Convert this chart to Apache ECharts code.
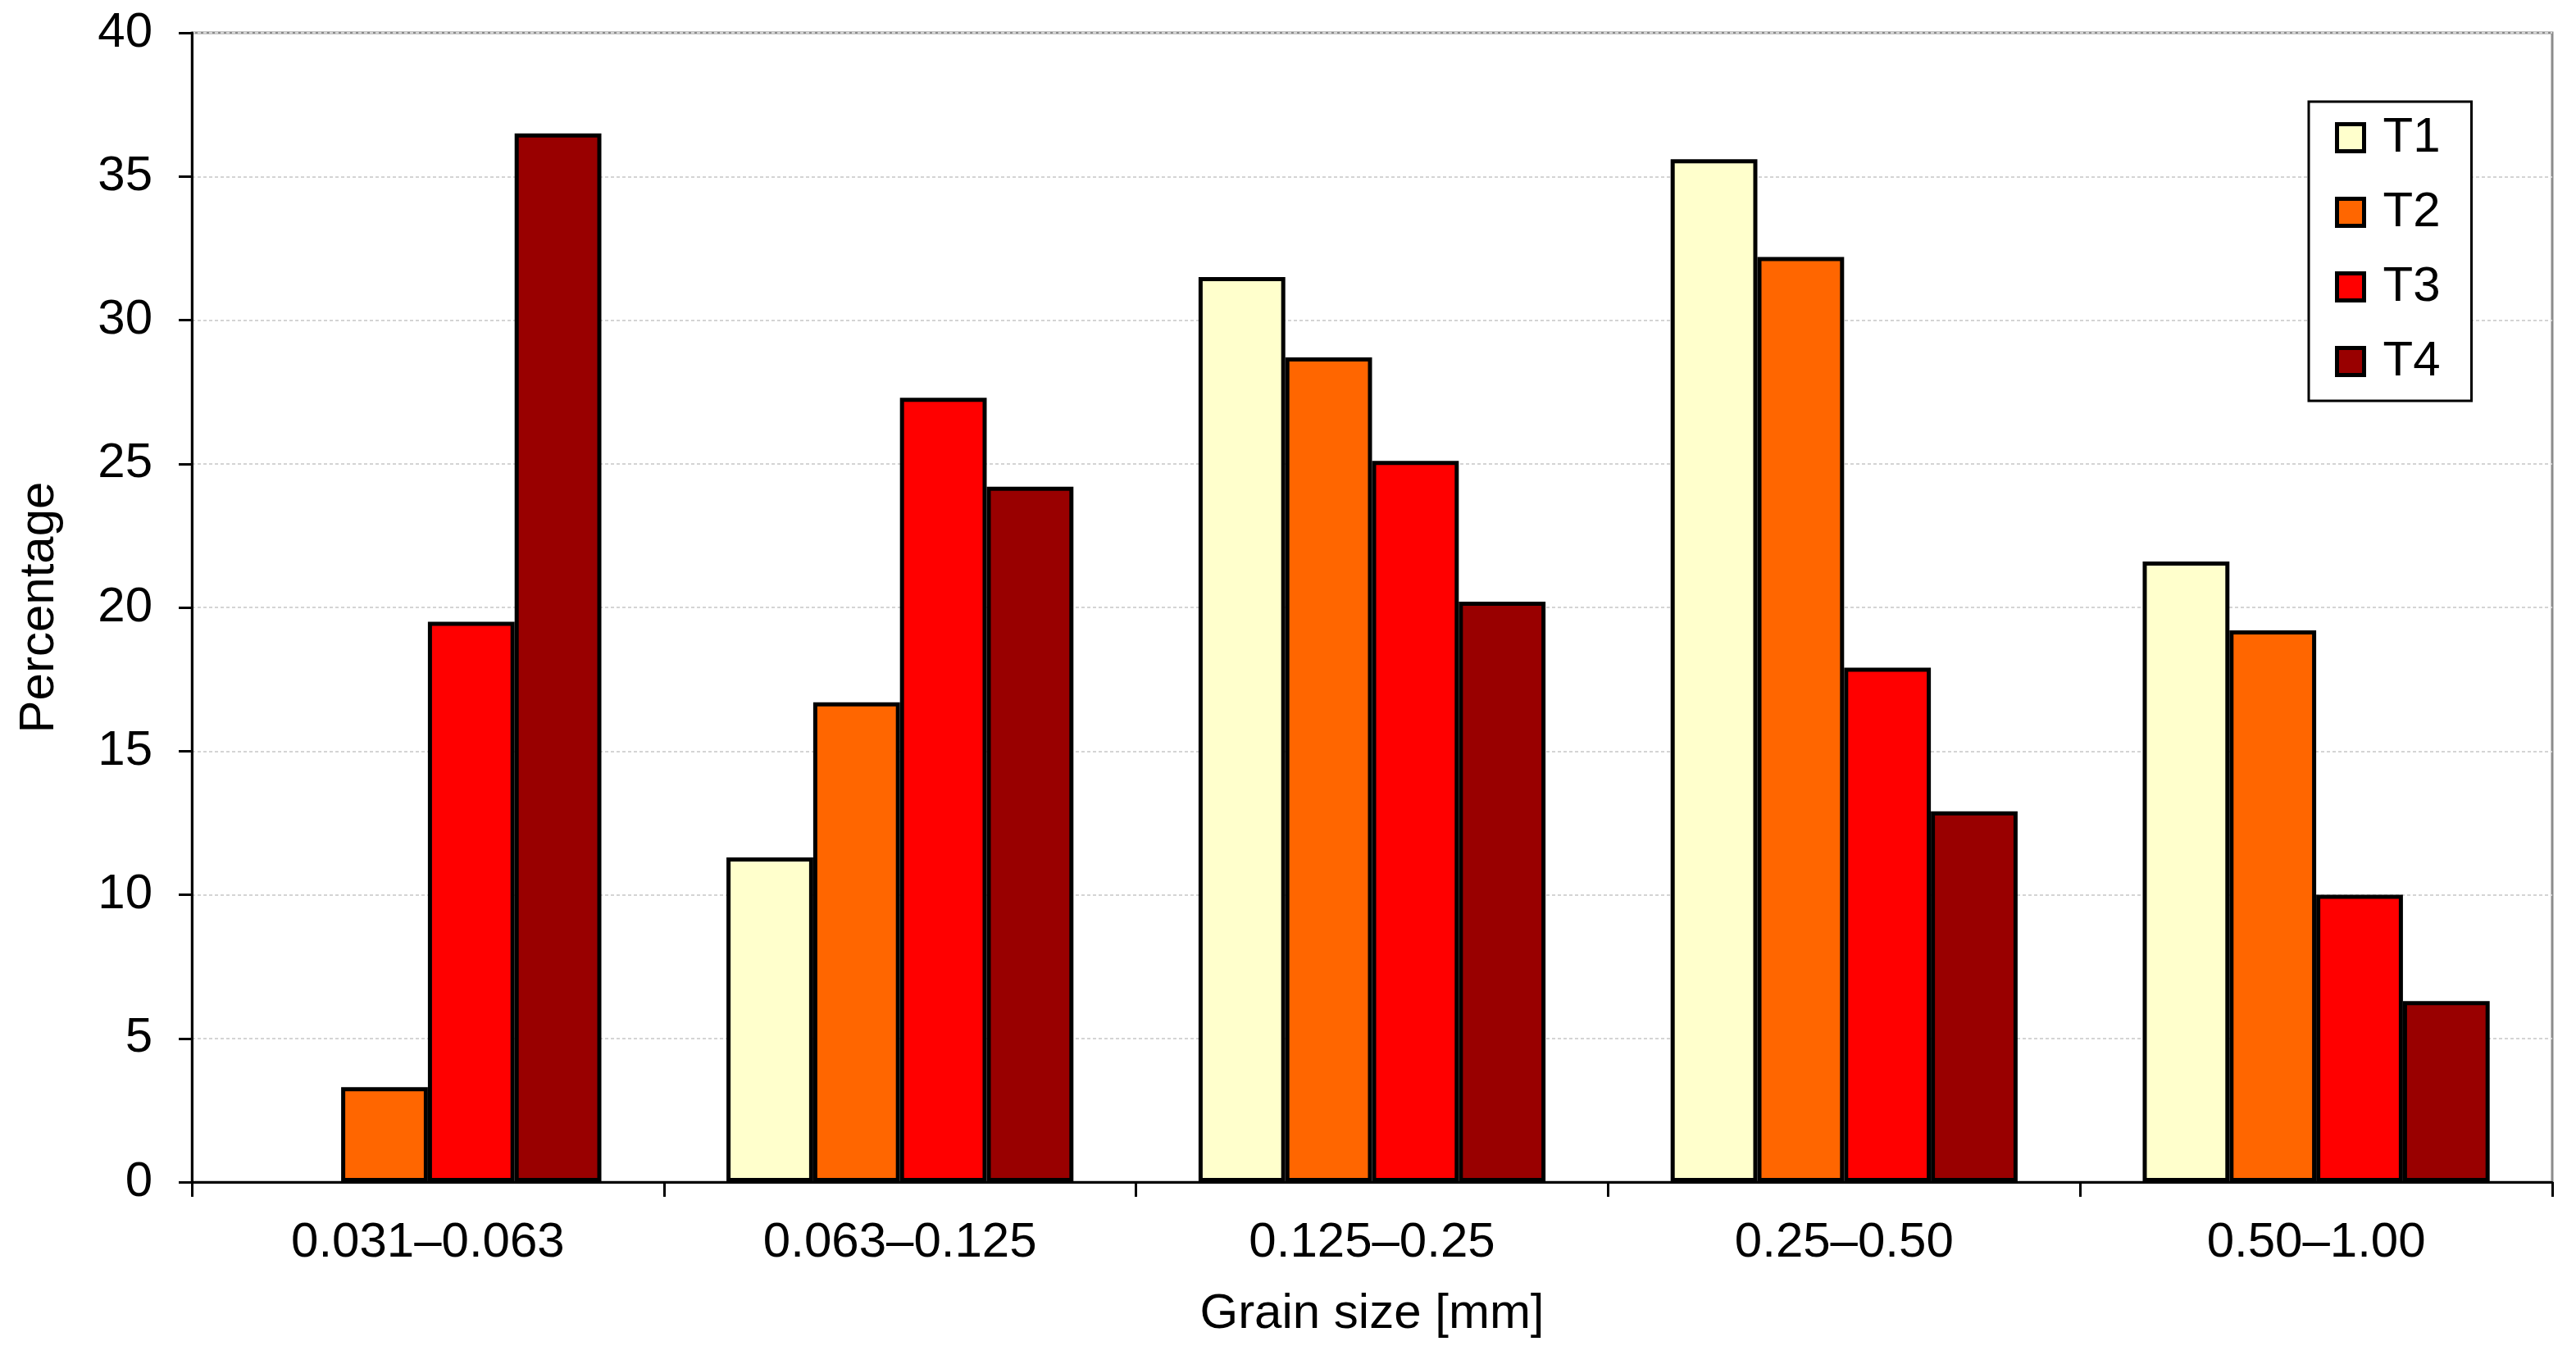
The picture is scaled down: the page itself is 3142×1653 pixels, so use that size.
<!DOCTYPE html>
<html>
<head>
<meta charset="utf-8">
<script src="https://cdn.jsdelivr.net/npm/echarts@6/dist/echarts.min.js"></script>
<style>
html,body{margin:0;padding:0;background:#fff;}
#chart{width:3142px;height:1653px;}
</style>
</head>
<body>
<div id="chart"></div>
<script>
const categories = ['0.031\u20130.063', '0.063\u20130.125', '0.125\u20130.25', '0.25\u20130.50', '0.50\u20131.00'];
const seriesNames = ['T1', 'T2', 'T3', 'T4'];
const T1 = [null, 11.3, 31.5, 35.6, 21.6];
const T2 = [3.3, 16.7, 28.7, 32.2, 19.2];
const T3 = [19.5, 27.3, 25.1, 17.9, 10.0];
const T4 = [36.5, 24.2, 20.2, 12.9, 6.3];
const colors = ['#FFFFCC', '#FF6600', '#FF0000', '#990000'];
const yTicks = [0, 40, 5];

const FONT = '"Liberation Sans", Arial, sans-serif';
const chart = echarts.init(document.getElementById('chart'), null, {renderer: 'canvas'});
const values = [T1, T2, T3, T4];
const series = seriesNames.map((name, i) => ({
  name: name,
  type: 'bar',
  data: values[i],
  barGap: '0%',
  barCategoryGap: '26.5%',
  itemStyle: {color: colors[i], borderColor: '#000', borderWidth: 5},
  emphasis: {disabled: true}
}));

chart.setOption({
  animation: false,
  backgroundColor: '#fff',
  textStyle: {fontFamily: FONT},
  grid: {
    left: 234, right: 29, top: 40, bottom: 211,
    show: true, borderColor: '#8c8c8c', borderWidth: 3, backgroundColor: 'transparent'
  },
  legend: {
    orient: 'vertical',
    left: 2816, top: 124,
    padding: [14, 38, 18, 32],
    itemGap: 31,
    itemWidth: 33, itemHeight: 33,
    icon: 'rect',
    borderColor: '#000', borderWidth: 3,
    backgroundColor: '#fff',
    itemStyle: {borderColor: '#000', borderWidth: 5},
    textStyle: {fontSize: 60, lineHeight: 60, color: '#000', fontFamily: FONT, padding: [0, 0, 0, 18]},
    data: seriesNames
  },
  xAxis: {
    type: 'category',
    data: categories,
    name: 'Grain size [mm]',
    nameLocation: 'middle',
    nameGap: 131,
    nameTextStyle: {fontSize: 60, lineHeight: 60, color: '#000', fontFamily: FONT},
    axisLine: {lineStyle: {color: '#000', width: 3}},
    axisTick: {show: true, length: 18, lineStyle: {color: '#000', width: 3}},
    axisLabel: {fontSize: 60, lineHeight: 60, color: '#000', margin: 44, fontFamily: FONT},
    splitLine: {show: false}
  },
  yAxis: {
    type: 'value',
    min: yTicks[0], max: yTicks[1], interval: yTicks[2],
    name: 'Percentage',
    nameLocation: 'middle',
    nameGap: 156,
    nameTextStyle: {fontSize: 60, lineHeight: 60, color: '#000', fontFamily: FONT},
    axisLine: {show: true, lineStyle: {color: '#000', width: 3}},
    axisTick: {show: true, length: 16, lineStyle: {color: '#000', width: 3}},
    axisLabel: {fontSize: 60, color: '#000', margin: 48, fontFamily: FONT},
    splitLine: {show: true, lineStyle: {color: '#d4d4d4', width: 2, type: [4, 3]}}
  },
  series: series
});
</script>
</body>
</html>
